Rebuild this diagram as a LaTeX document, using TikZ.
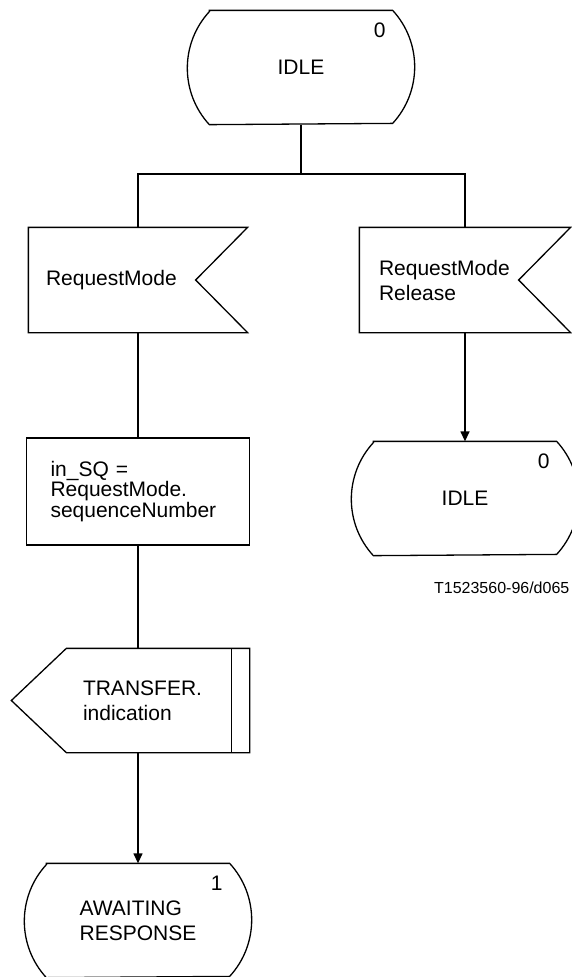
\documentclass[tikz,border=0pt]{standalone}
\usepackage{fontspec}
\setmainfont{Liberation Sans}
\usetikzlibrary{arrows.meta, calc}
\newcommand{\sdlfont}{\fontsize{21}{25}\selectfont}
\newcommand{\notefont}{\fontsize{16}{19}\selectfont}
\tikzset{
  every picture/.style={line width=1.3pt, x=1pt, y=1pt},
  body/.style={inner ysep=0pt, font=\sdlfont, align=left},
  statebox/.style={body, inner sep=0pt, minimum width=182pt, minimum height=113pt},
  inbox/.style={body, minimum height=104pt},
  taskbox/.style={body, draw, minimum height=107pt, font=\fontsize{21}{19}\selectfont},
  outbox/.style={body, minimum height=103pt},
  digit/.style={font=\sdlfont, inner sep=0pt},
  arrow/.style={-{Triangle[length=10pt, width=9pt]}},
  note/.style={font=\notefont, inner sep=0pt},
}
% outlines of the SDL symbols, drawn round a named node
\newcommand{\drawstate}[1]{\draw (#1.north west) -- (#1.north east) arc[start angle=42.6, end angle=-42.6, radius=83.5] -- (#1.south west) arc[start angle=222.6, end angle=137.4, radius=83.5] -- cycle;}
\newcommand{\drawinput}[1]{\draw (#1.north west) -- (#1.north east) -- ($(#1.east)+(-52,0)$) -- (#1.south east) -- (#1.south west) -- cycle;}
\newcommand{\drawoutput}[1]{\draw (#1.north west) -- (#1.north east) -- (#1.south east) -- (#1.south west) -- ($(#1.west)+(-55,0)$) -- cycle;
  \draw ($(#1.north east)+(-18,0)$) -- ($(#1.south east)+(-18,0)$);}

\begin{document}
\begin{tikzpicture}
  \useasboundingbox (0,0) rectangle (571,-977);
  % states
  \node[statebox] (s0) at (301,-67.5) {IDLE};
  \node[statebox] (s1) at (465,-498.5) {IDLE};
  \node[statebox] (s2) at (138,-920.5) {AWAITING\\RESPONSE};
  \foreach \s/\n in {s0/0, s1/0, s2/1} {
    \drawstate{\s}
    \node[digit] (n\s) at ($(\s.north east)+(-13,-20)$) {\n};
  }
  % inputs
  \node[inbox, text width=184pt, inner xsep=17pt] (in1) at (138,-280) {RequestMode};
  \node[inbox, text width=172pt, inner xsep=19pt] (in2) at (465,-280) {RequestMode\\Release};
  \drawinput{in1}
  \drawinput{in2}
  % task and output
  \node[taskbox, text width=175pt, inner xsep=24pt] (task) at (138,-491.5) {in\_SQ =\\RequestMode.\\sequenceNumber};
  \node[outbox, text width=150pt, inner xsep=16pt] (out) at (158,-700.5) {TRANSFER.\\indication};
  \drawoutput{out}
  % connectors
  \coordinate (fork) at (301,-174);
  \draw (s0) -- (fork);
  \draw (in1.north) |- (fork) -| (in2.north);
  \draw (in1) -- (task);
  \draw (task) -- (task.south |- out.north);
  \draw[arrow] (task.south |- out.south) -- (s2);
  \draw[arrow] (in2) -- (s1);
  \node[note, anchor=base east] (ref) at (570,-593) {T1523560-96/d065};
\end{tikzpicture}
\end{document}
